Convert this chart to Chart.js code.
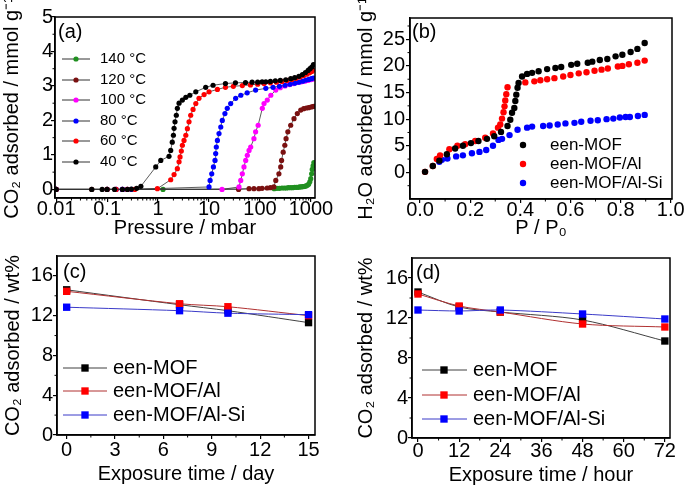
<!DOCTYPE html>
<html>
<head>
<meta charset="utf-8">
<script src="https://cdn.jsdelivr.net/npm/chart.js@4.4.0/dist/chart.umd.min.js"></script>
<style>
  body { margin: 0; background: #fff; }
  #wrap { position: relative; width: 685px; height: 487px; }
  #wrap canvas { position: absolute; }
</style>
</head>
<body>
<div id="wrap">
  <canvas id="chartA" width="340" height="240" style="left:0;top:0"></canvas>
  <canvas id="chartB" width="345" height="240" style="left:340px;top:0"></canvas>
  <canvas id="chartC" width="340" height="247" style="left:0;top:240px"></canvas>
  <canvas id="chartD" width="345" height="247" style="left:340px;top:240px"></canvas>
</div>
<script>
// ---- (a) CO2 isotherms, pressure in mbar, uptake in mmol/g
const isoLabels = ["140 °C", "120 °C", "100 °C", "80 °C", "60 °C", "40 °C"];
const isoColors = ["#209020", "#7a1010", "#ff00ff", "#0000ff", "#ff0000", "#000000"];

const p140 = [0.01, 1.25, 190, 215, 240, 270, 300, 330, 360, 400, 440, 480, 520, 560, 600, 640, 680, 720, 760, 800, 850, 900, 950, 990, 1030, 1060, 1100, 1140];
const v140 = [0, 0, 0.02, 0.03, 0.03, 0.04, 0.04, 0.04, 0.05, 0.05, 0.05, 0.06, 0.06, 0.06, 0.07, 0.07, 0.08, 0.08, 0.09, 0.1, 0.12, 0.15, 0.22, 0.31, 0.45, 0.58, 0.68, 0.78];

const p120 = [0.01, 0.05, 0.1, 0.2, 38, 61, 76, 95, 110, 138, 160, 187, 204, 235, 255, 265, 285, 307, 325, 352, 400, 465, 540, 630, 720, 810, 900, 1000, 1080, 1150];
const v120 = [0, 0, 0, 0, 0, 0.02, 0.02, 0.02, 0.03, 0.04, 0.05, 0.07, 0.26, 0.45, 0.65, 0.84, 1.08, 1.28, 1.47, 1.67, 1.86, 2.05, 2.2, 2.3, 2.34, 2.36, 2.37, 2.39, 2.4, 2.41];

const p100 = [0.01, 0.15, 0.2, 0.25, 18, 38.7, 41.9, 45, 48.5, 52.4, 56.4, 61, 65.7, 76, 82, 92, 111, 120, 139, 163, 204, 250, 310, 380, 460, 550, 650, 760, 870, 980, 1080, 1140];
const v100 = [0, 0, 0, 0, 0, 0.07, 0.26, 0.45, 0.65, 0.84, 0.99, 1.13, 1.23, 1.47, 1.67, 1.86, 2.35, 2.49, 2.59, 2.73, 2.88, 2.95, 3.0, 3.04, 3.07, 3.1, 3.12, 3.14, 3.16, 3.18, 3.2, 3.21];

const p80 = [0.01, 0.1, 0.15, 0.2, 0.3, 10, 10.5, 11.3, 12.2, 13.1, 13.5, 13.9, 14.6, 15.7, 17, 18.2, 20.5, 22.8, 26.6, 33.3, 42, 56, 82, 130, 180, 240, 310, 390, 480, 580, 690, 800, 910, 1020, 1120];
const v80 = [0, 0, 0, 0, 0, 0.07, 0.26, 0.45, 0.65, 0.84, 1.04, 1.23, 1.42, 1.62, 1.81, 2.0, 2.2, 2.35, 2.49, 2.64, 2.73, 2.8, 2.88, 2.93, 2.96, 2.99, 3.02, 3.05, 3.08, 3.11, 3.14, 3.17, 3.19, 3.21, 3.23];

const p60 = [0.01, 0.1, 0.15, 0.25, 0.35, 0.97, 1.77, 2.06, 2.39, 2.58, 2.7, 2.86, 3.0, 3.23, 3.5, 3.76, 4.05, 4.37, 4.86, 5.5, 6.35, 8.0, 10, 14.6, 21, 30, 45, 65, 90, 120, 160, 210, 270, 340, 420, 510, 610, 720, 830, 940, 1040, 1120];
const v60 = [0, 0, 0, 0, 0, 0.02, 0.28, 0.43, 0.6, 0.8, 0.94, 1.11, 1.28, 1.42, 1.57, 1.76, 1.96, 2.15, 2.32, 2.49, 2.64, 2.75, 2.83, 2.9, 2.96, 2.99, 3.01, 3.03, 3.05, 3.07, 3.09, 3.11, 3.13, 3.16, 3.19, 3.22, 3.26, 3.3, 3.34, 3.38, 3.42, 3.46];

const p40 = [0.01, 0.05, 0.08, 0.1, 0.14, 0.2, 0.25, 0.3, 0.38, 0.46, 0.9, 1.13, 1.64, 1.77, 1.9, 2.0, 2.06, 2.15, 2.28, 2.39, 2.58, 3.0, 3.5, 4.2, 5.5, 8.6, 12, 21, 33, 52, 70, 90, 110, 130, 160, 200, 250, 320, 400, 480, 580, 680, 780, 880, 960, 1040, 1120];
const v40 = [0, 0, 0, 0, 0, 0, 0, 0.01, 0.03, 0.09, 0.65, 0.84, 0.96, 1.13, 1.37, 1.57, 1.77, 1.96, 2.15, 2.35, 2.5, 2.59, 2.67, 2.73, 2.83, 2.96, 3.02, 3.07, 3.09, 3.1, 3.11, 3.11, 3.12, 3.12, 3.13, 3.15, 3.16, 3.18, 3.21, 3.24, 3.28, 3.33, 3.39, 3.45, 3.5, 3.55, 3.62];

const aTicksX = [0.01, 0.1, 1, 10, 100, 1000];
const aTicksY = [0, 1, 2, 3, 4, 5];

// ---- (b) H2O isotherms, P/P0 vs mmol/g
const sampleLabels = ["een-MOF", "een-MOF/Al", "een-MOF/Al-Si"];

const bxMof = [0.02, 0.051, 0.077, 0.107, 0.14, 0.171, 0.203, 0.233, 0.267, 0.296, 0.323, 0.349, 0.36, 0.367, 0.376, 0.38, 0.384, 0.389, 0.393, 0.407, 0.427, 0.447, 0.473, 0.507, 0.54, 0.563, 0.603, 0.627, 0.669, 0.687, 0.717, 0.747, 0.78, 0.807, 0.84, 0.867, 0.896];
const byMof = [0.1, 1.2, 2.2, 3.4, 4.5, 5.0, 5.5, 5.9, 6.3, 6.8, 7.6, 8.7, 9.9, 11.2, 12.1, 13.4, 14.6, 15.9, 16.8, 18.0, 18.5, 18.7, 19.0, 19.4, 19.6, 19.8, 20.2, 20.4, 20.6, 20.8, 21.1, 21.3, 21.8, 22.1, 22.6, 23.2, 24.3];

const bxAl = [0.02, 0.051, 0.067, 0.08, 0.117, 0.149, 0.18, 0.22, 0.26, 0.291, 0.311, 0.32, 0.327, 0.333, 0.337, 0.34, 0.344, 0.349, 0.42, 0.456, 0.48, 0.507, 0.536, 0.571, 0.6, 0.633, 0.664, 0.696, 0.724, 0.749, 0.789, 0.807, 0.833, 0.867, 0.896];
const byAl = [0.1, 1.2, 2.5, 3.2, 4.35, 5.0, 5.3, 5.9, 6.5, 7.3, 8.4, 9.0, 10.1, 11.3, 12.4, 13.5, 14.7, 16.0, 16.9, 17.1, 17.3, 17.5, 17.7, 18.0, 18.3, 18.6, 18.8, 19.1, 19.3, 19.5, 19.9, 20.0, 20.3, 20.6, 21.0];

const bxSi = [0.077, 0.087, 0.109, 0.144, 0.171, 0.207, 0.237, 0.264, 0.291, 0.313, 0.327, 0.357, 0.389, 0.427, 0.447, 0.491, 0.517, 0.549, 0.58, 0.616, 0.643, 0.68, 0.709, 0.744, 0.771, 0.797, 0.82, 0.837, 0.869, 0.896];
const bySi = [2.0, 2.35, 2.6, 3.0, 3.2, 3.6, 3.85, 4.2, 5.0, 6.1, 6.3, 7.0, 8.0, 8.4, 8.6, 8.7, 8.8, 9.0, 9.2, 9.3, 9.5, 9.7, 9.8, 10.0, 10.1, 10.3, 10.4, 10.4, 10.6, 10.8];

const bTicksX = [0, 0.2, 0.4, 0.6, 0.8, 1.0];
const bTicksY = [0, 5, 10, 15, 20, 25];

// ---- (c) stability vs days, (d) vs hours, CO2 wt%
const days = [0, 7, 10, 15];
const cMof = [14.6, 13.1, 12.5, 11.3];
const cAl = [14.45, 13.2, 12.9, 12.0];
const cSi = [12.85, 12.5, 12.25, 12.1];

const hours = [0, 12, 24, 48, 72];
const dMof = [14.6, 13.1, 12.6, 11.8, 9.7];
const dAl = [14.4, 13.2, 12.6, 11.4, 11.1];
const dSi = [12.8, 12.7, 12.8, 12.4, 11.9];

const cTicksX = [0, 3, 6, 9, 12, 15];
const dTicksX = [0, 12, 24, 36, 48, 60, 72];
const wtTicksY = [0, 4, 8, 12, 16];

const FONT = "'Liberation Sans', Arial, sans-serif";
Chart.defaults.font.family = FONT;
Chart.defaults.color = "#000";

// box round the plot area
const framePlugin = {
  id: "frame",
  afterDraw(chart) {
    let a = chart.chartArea, ctx = chart.ctx;
    ctx.save();
    ctx.strokeStyle = "#000";
    ctx.lineWidth = 1.5;
    ctx.strokeRect(a.left, a.top, a.right - a.left, a.bottom - a.top);
    ctx.restore();
  }
};

// short unlabeled ticks between the labeled ones
const minorTicks = {
  id: "minorTicks",
  afterDraw(chart, args, opts) {
    let a = chart.chartArea, ctx = chart.ctx;
    ctx.save();
    ctx.strokeStyle = "#000";
    ctx.lineWidth = 1;
    ctx.beginPath();
    for (let v of opts.x || []) {
      let px = chart.scales.x.getPixelForValue(v);
      ctx.moveTo(px, a.bottom);
      ctx.lineTo(px, a.bottom + 2.5);
    }
    for (let v of opts.y || []) {
      let py = chart.scales.y.getPixelForValue(v);
      ctx.moveTo(a.left, py);
      ctx.lineTo(a.left - 2.5, py);
    }
    ctx.stroke();
    ctx.restore();
  }
};

// legend drawn inside the plot area, plus the (a)/(b)... tag
const insideLegend = {
  id: "insideLegend",
  afterDraw(chart, args, opts) {
    let a = chart.chartArea, ctx = chart.ctx;
    ctx.save();
    ctx.textBaseline = "middle";
    ctx.fillStyle = "#000";
    ctx.font = "20px " + FONT;
    ctx.fillText(opts.tag, a.left + opts.tagX, a.top + opts.tagY);

    ctx.font = opts.size + "px " + FONT;
    opts.order.forEach(function(idx, row) {
      let ds = chart.data.datasets[idx];
      let y = a.top + opts.rows[row];
      if (opts.line) {
        ctx.strokeStyle = ds.borderColor;
        ctx.lineWidth = 1;
        ctx.beginPath();
        ctx.moveTo(a.left + opts.line[0], y);
        ctx.lineTo(a.left + opts.line[1], y);
        ctx.stroke();
      }
      let mx = a.left + opts.markerX;
      ctx.fillStyle = ds.pointBackgroundColor;
      if (ds.pointStyle === "rect") {
        let s = ds.pointRadius * Math.SQRT1_2;
        ctx.fillRect(mx - s, y - s, 2 * s, 2 * s);
      } else {
        ctx.beginPath();
        ctx.arc(mx, y, ds.pointRadius, 0, Math.PI * 2);
        ctx.fill();
      }
      ctx.fillStyle = "#000";
      ctx.fillText(ds.label, a.left + opts.textX, y);
    });
    ctx.restore();
  }
};

function pairs(xs, ys) {
  return xs.map((x, i) => ({x: x, y: ys[i]}));
}

function axis(cfg) {
  return {
    type: cfg.type || "linear",
    min: cfg.min,
    max: cfg.max,
    afterBuildTicks: s => { s.ticks = cfg.ticks.map(v => ({value: v})); },
    afterFit: s => {
      if (cfg.width) s.width = cfg.width;
      if (cfg.height) s.height = cfg.height;
    },
    border: {display: true, color: "#000", width: 1.5},
    grid: {drawOnChartArea: false, drawTicks: true, tickLength: 4, color: "#000", lineWidth: 1.2},
    ticks: {
      font: {size: 20, lineHeight: 1},
      padding: cfg.pad,
      autoSkip: false,
      maxRotation: 0,
      callback: cfg.fmt || (v => String(v))
    },
    title: {
      display: true,
      text: cfg.title,
      font: {size: 20},
      padding: cfg.titlePad
    }
  };
}

function baseOptions(scales, pad, plugins) {
  return {
    responsive: false,
    animation: false,
    devicePixelRatio: 1,
    layout: {padding: pad},
    scales: scales,
    plugins: Object.assign({legend: {display: false}, tooltip: {enabled: false}}, plugins)
  };
}

// ---- (a)
let isoP = [p140, p120, p100, p80, p60, p40];
let isoV = [v140, v120, v100, v80, v60, v40];
let isoSets = isoLabels.map(function(label, i) {
  return {
    label: label,
    data: pairs(isoP[i], isoV[i]),
    borderColor: "#333",
    borderWidth: 0.8,
    pointRadius: 2.6,
    pointBackgroundColor: isoColors[i],
    pointBorderColor: isoColors[i],
    pointBorderWidth: 0,
    order: isoLabels.length - i
  };
});

let logMinor = [];
for (let e = -2; e <= 3; e++) {
  for (let k = 2; k <= 9; k++) {
    let v = k * Math.pow(10, e);
    if (v < 1200) logMinor.push(v);
  }
}

new Chart("chartA", {
  type: "line",
  data: {datasets: isoSets},
  options: baseOptions({
    x: axis({type: "logarithmic", min: 0.0095, max: 1200, ticks: aTicksX, height: 42, pad: -3,
      title: "Pressure / mbar", titlePad: {top: 0, bottom: 0}}),
    y: axis({min: -0.25, max: 5, ticks: aTicksY, width: 55, pad: -2,
      title: "CO₂ adsorbed / mmol g⁻¹", titlePad: {top: 0, bottom: 0}})
  }, {top: 17, right: 25, left: 0, bottom: 0}, {
    minorTicks: {x: logMinor, y: [0.5, 1.5, 2.5, 3.5, 4.5]},
    insideLegend: {tag: "(a)", tagX: 3, tagY: 15, size: 15, order: [0, 1, 2, 3, 4, 5],
      rows: [42, 63, 83, 104, 124, 145], line: [7, 35], markerX: 21, textX: 45}
  }),
  plugins: [framePlugin, minorTicks, insideLegend]
});

// ---- (b)
let bX = [bxMof, bxAl, bxSi];
let bY = [byMof, byAl, bySi];
let bColors = ["#000000", "#ff0000", "#0000ff"];
let bSets = sampleLabels.map(function(label, i) {
  return {
    label: label,
    data: pairs(bX[i], bY[i]),
    showLine: false,
    borderColor: bColors[i],
    pointRadius: 3.2,
    pointBackgroundColor: bColors[i],
    pointBorderColor: bColors[i],
    pointBorderWidth: 0
  };
});

new Chart("chartB", {
  type: "scatter",
  data: {datasets: bSets},
  options: baseOptions({
    x: axis({min: -0.04, max: 1.005, ticks: bTicksX, height: 41, pad: -3, fmt: v => v.toFixed(1),
      title: "P / P₀", titlePad: {top: 0, bottom: 0}}),
    y: axis({min: -5, max: 29, ticks: bTicksY, width: 70, pad: 1,
      title: "H₂O adsorbed / mmol g⁻¹", titlePad: {top: 14, bottom: 0}})
  }, {top: 18, right: 13, left: 0, bottom: 0}, {
    minorTicks: {x: [0.1, 0.3, 0.5, 0.7, 0.9], y: [-2.5, 2.5, 7.5, 12.5, 17.5, 22.5, 27.5]},
    insideLegend: {tag: "(b)", tagX: 2, tagY: 14, size: 17, order: [0, 1, 2],
      rows: [127, 146, 165], markerX: 113, textX: 140}
  }),
  plugins: [framePlugin, minorTicks, insideLegend]
});

// ---- (c) and (d)
let lineColors = ["#404040", "#b03030", "#3a3ac8"];
let markColors = ["#000000", "#ff0000", "#0000ff"];

function wtSets(xs, series) {
  return sampleLabels.map(function(label, i) {
    return {
      label: label,
      data: pairs(xs, series[i]),
      borderColor: lineColors[i],
      borderWidth: 1,
      tension: 0.3,
      pointStyle: "rect",
      pointRadius: 5.2,
      pointBackgroundColor: markColors[i],
      pointBorderColor: markColors[i],
      pointBorderWidth: 0,
      order: 2 - i
    };
  });
}

new Chart("chartC", {
  type: "line",
  data: {datasets: wtSets(days, [cMof, cAl, cSi])},
  options: baseOptions({
    x: axis({min: -0.6, max: 15.4, ticks: cTicksX, height: 52, pad: 1,
      title: "Exposure time / day", titlePad: {top: 0, bottom: 1}}),
    y: axis({min: 0, max: 18, ticks: wtTicksY, width: 57, pad: 0,
      title: "CO₂ adsorbed / wt%", titlePad: {top: 1, bottom: 0}})
  }, {top: 16, right: 25, left: 0, bottom: 0}, {
    minorTicks: {x: [1.5, 4.5, 7.5, 10.5, 13.5], y: [2, 6, 10, 14]},
    insideLegend: {tag: "(c)", tagX: 6, tagY: 16, size: 20, order: [0, 1, 2],
      rows: [112, 135, 159], line: [6, 50], markerX: 28, textX: 56}
  }),
  plugins: [framePlugin, minorTicks, insideLegend]
});

new Chart("chartD", {
  type: "line",
  data: {datasets: wtSets(hours, [dMof, dAl, dSi])},
  options: baseOptions({
    x: axis({min: -1.75, max: 73.5, ticks: dTicksX, height: 49, pad: -1,
      title: "Exposure time / hour", titlePad: {top: 0, bottom: 0}}),
    y: axis({min: 0, max: 18, ticks: wtTicksY, width: 72, pad: 0,
      title: "CO₂ adsorbed / wt%", titlePad: {top: 14, bottom: 0}})
  }, {top: 18, right: 15, left: 0, bottom: 0}, {
    minorTicks: {x: [6, 18, 30, 42, 54, 66], y: [2, 6, 10, 14]},
    insideLegend: {tag: "(d)", tagX: 4, tagY: 15, size: 20, order: [0, 1, 2],
      rows: [112, 137, 161], line: [10, 55], markerX: 32, textX: 61}
  }),
  plugins: [framePlugin, minorTicks, insideLegend]
});
</script>
</body>
</html>
